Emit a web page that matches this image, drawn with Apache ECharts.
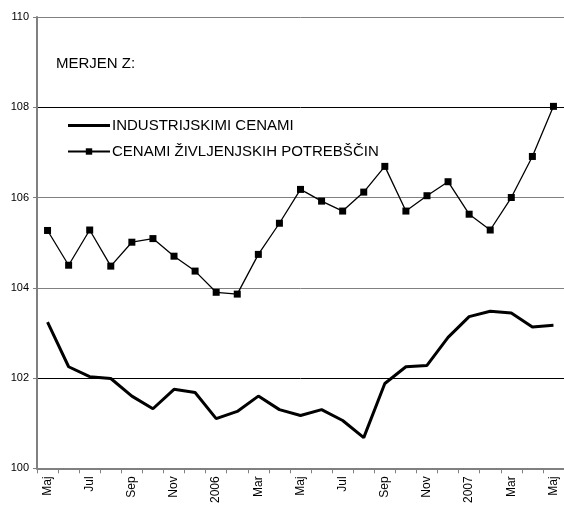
<!DOCTYPE html>
<html><head><meta charset="utf-8">
<script src="https://cdn.jsdelivr.net/npm/echarts@6/dist/echarts.min.js"></script>
<style>html,body{margin:0;padding:0;background:#fff}#c{width:564px;height:506px}</style>
</head><body><div id="c"></div>
<script>
var categories = ['Maj','Jun','Jul','Avg','Sep','Okt','Nov','Dec','2006','Feb','Mar','Apr','Maj','Jun','Jul','Avg','Sep','Okt','Nov','Dec','2007','Feb','Mar','Apr','Maj'];
var industrijskimi = [103.24,102.25,102.03,101.99,101.6,101.32,101.75,101.68,101.1,101.26,101.6,101.3,101.17,101.3,101.06,100.68,101.88,102.25,102.28,102.9,103.36,103.48,103.44,103.13,103.17];
var zivljenjskih = [105.27,104.5,105.28,104.48,105.01,105.09,104.7,104.37,103.9,103.86,104.74,105.43,106.18,105.92,105.7,106.12,106.69,105.7,106.04,106.35,105.63,105.28,106.0,106.91,108.02];
var seriesNames = ['INDUSTRIJSKIMI CENAMI','CENAMI ŽIVLJENJSKIH POTREBŠČIN'];
var chart = echarts.init(document.getElementById('c'));
var font = 'Liberation Sans, Arial, sans-serif';
chart.setOption({
  animation:false,
  grid:{left:37,right:0,top:17,bottom:35},
  graphic:[{type:'text',left:56,top:56,style:{text:'MERJEN Z:',font:'15px '+font,fill:'#000'}}],
  legend:{orient:'vertical',left:62,top:113,itemWidth:42,itemHeight:8,itemGap:11,
    textStyle:{fontFamily:font,fontSize:15,color:'#000',padding:[0,0,0,-3]},
    data:[{name:seriesNames[0],icon:'path://M0,0L42,0L42,3L0,3Z'},{name:seriesNames[1]}]},
  xAxis:{type:'category',data:categories,boundaryGap:true,
    axisLine:{lineStyle:{color:'#808080',width:2}},
    axisTick:{show:true,interval:0,length:5,lineStyle:{color:'#808080'}},
    axisLabel:{interval:1,rotate:90,fontFamily:font,fontSize:12,color:'#000',margin:8},
    splitLine:{show:false}},
  yAxis:{type:'value',min:100,max:110,interval:2,
    axisLine:{show:true,lineStyle:{color:'#808080',width:2}},
    axisTick:{show:true,length:4,lineStyle:{color:'#808080'}},
    axisLabel:{fontFamily:font,fontSize:11,color:'#000',margin:8},
    splitLine:{show:true,lineStyle:{color:['#808080','#000','#808080','#808080','#000','#808080'],width:1}}},
  series:[
    {name:seriesNames[0],type:'line',data:industrijskimi,symbol:'none',lineStyle:{color:'#000',width:3},itemStyle:{color:'#000'}},
    {name:seriesNames[1],type:'line',data:zivljenjskih,symbol:'rect',symbolSize:7,lineStyle:{color:'#000',width:1.3},itemStyle:{color:'#000'}}
  ]
});
</script></body></html>
